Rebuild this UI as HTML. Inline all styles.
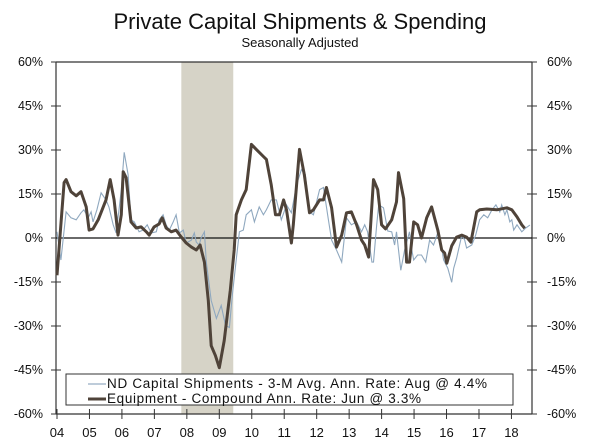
<!DOCTYPE html>
<html><head><meta charset="utf-8"><style>
body{margin:0;background:#fff;}
svg{display:block;font-family:"Liberation Sans",sans-serif;}
</style></head><body>
<svg id="chart" width="600" height="447">
<text x="300" y="29" text-anchor="middle" font-size="22" fill="#111">Private Capital Shipments &amp; Spending</text>
<text x="300" y="47" text-anchor="middle" font-size="13" fill="#111">Seasonally Adjusted</text>
<g id="plot"></g>
</svg>
<script>
const yTicks=[60,45,30,15,0,-15,-30,-45,-60];
const xYears=[2004,2005,2006,2007,2008,2009,2010,2011,2012,2013,2014,2015,2016,2017,2018];
const recession=[2007.83,2009.43];
const shipDates=[2004.00,2004.12,2004.28,2004.43,2004.59,2004.74,2004.83,2004.96,2005.05,2005.11,2005.23,2005.36,2005.51,2005.60,2005.73,2005.82,2005.91,2005.98,2006.07,2006.19,2006.28,2006.38,2006.53,2006.65,2006.78,2006.90,2007.06,2007.15,2007.27,2007.36,2007.46,2007.58,2007.67,2007.77,2007.89,2007.98,2008.14,2008.23,2008.29,2008.38,2008.44,2008.54,2008.60,2008.75,2008.91,2009.06,2009.19,2009.31,2009.40,2009.52,2009.62,2009.74,2009.83,2009.99,2010.08,2010.23,2010.36,2010.45,2010.60,2010.76,2010.91,2011.07,2011.22,2011.38,2011.53,2011.65,2011.78,2011.90,2012.09,2012.21,2012.36,2012.46,2012.61,2012.77,2012.92,2013.07,2013.23,2013.38,2013.48,2013.57,2013.70,2013.75,2013.85,2013.91,2014.06,2014.19,2014.31,2014.40,2014.46,2014.59,2014.71,2014.86,2014.93,2014.99,2015.11,2015.23,2015.36,2015.48,2015.60,2015.76,2015.91,2016.04,2016.16,2016.22,2016.31,2016.47,2016.56,2016.62,2016.78,2016.90,2017.02,2017.15,2017.27,2017.40,2017.52,2017.64,2017.70,2017.80,2017.86,2017.95,2018.01,2018.07,2018.17,2018.32,2018.44,2018.57];
const shipValues=[2.1,-7.5,8.9,6.9,6.2,8.6,9.6,6.9,8.9,5.5,9.6,15.4,13.0,10.6,4.5,1.7,9.6,16.5,29.2,21.6,6.2,5.5,2.1,2.7,4.5,1.7,2.1,6.2,7.9,4.5,2.7,5.5,7.9,1.7,2.7,-1.7,-0.7,1.7,-1.4,-2.4,0,2.1,-8.2,-21.3,-27.4,-23.0,-29.8,-30.5,-19.6,-7.5,2.1,2.7,7.9,9.6,5.5,10.6,7.9,9.6,13.0,13.0,6.2,11.3,8.6,18.2,23.3,21.6,8.9,7.9,16.5,17.2,6.2,-0.7,-4.1,-8.2,6.9,4.5,5.5,2.1,4.5,2.1,-8.2,-8.2,4.5,11.3,10.3,2.4,2.1,-2.4,2.1,-11.0,-4.1,2.1,-4.1,-7.5,-5.8,-5.8,-8.2,-0.7,-2.4,2.7,-7.5,-10.3,-15.1,-10.3,-6.9,1.0,-0.7,-3.4,-2.4,1.0,6.2,7.9,6.9,9.6,11.3,8.9,11.3,7.9,9.6,5.5,6.2,2.7,4.5,2.1,3.4,4.4];
const equipDates=[2004.00,2004.22,2004.28,2004.43,2004.59,2004.74,2004.90,2004.99,2005.11,2005.27,2005.51,2005.64,2005.76,2005.88,2005.98,2006.04,2006.13,2006.28,2006.44,2006.59,2006.75,2006.84,2006.99,2007.15,2007.24,2007.36,2007.52,2007.67,2007.83,2007.98,2008.14,2008.29,2008.41,2008.54,2008.66,2008.75,2008.88,2009.00,2009.15,2009.34,2009.46,2009.52,2009.68,2009.83,2009.99,2010.14,2010.36,2010.45,2010.60,2010.73,2010.85,2010.98,2011.07,2011.22,2011.28,2011.47,2011.62,2011.78,2011.90,2012.09,2012.21,2012.30,2012.46,2012.61,2012.77,2012.92,2013.07,2013.23,2013.38,2013.48,2013.60,2013.75,2013.88,2014.00,2014.12,2014.31,2014.46,2014.52,2014.68,2014.77,2014.86,2014.99,2015.11,2015.23,2015.39,2015.54,2015.73,2015.85,2015.94,2016.01,2016.16,2016.31,2016.47,2016.62,2016.75,2016.93,2017.02,2017.24,2017.55,2017.86,2018.01,2018.17,2018.32,2018.41];
const equipValues=[-12.7,18.9,19.9,15.8,14.4,15.8,10.6,2.7,3.1,6.2,13.0,19.9,13.0,1.0,7.9,22.6,20.6,5.5,3.4,3.8,2.1,1.0,3.8,4.8,6.9,3.4,2.1,2.7,0.3,-1.7,-3.1,-4.1,-2.4,-8.2,-21.3,-36.7,-40.1,-44.2,-35.0,-17.8,-4.1,7.9,13.0,16.5,31.9,30.2,27.8,26.8,18.2,7.9,7.9,13.0,9.6,-1.7,4.5,30.2,21.6,8.6,9.6,13.0,13.0,17.2,10.3,-3.1,1.0,8.6,8.9,4.5,-0.7,-2.4,-6.5,19.9,16.5,4.5,3.1,6.2,12.3,22.3,13.4,-8.2,-8.2,5.5,4.5,0,6.9,10.6,2.7,-4.1,-5.1,-8.6,-2.7,0.3,1.0,0.3,-1.4,8.9,9.6,9.9,9.6,10.3,9.6,7.2,4.5,3.3];

const NS='http://www.w3.org/2000/svg';
const L=56,R=532,T=62,B=414;
const X0=2004,PX=32.46,XO=57;
function xs(t){return XO+(t-X0)*PX;}
function ys(v){return T+(60-v)/120*(B-T);}
const g=document.getElementById('plot');
function mk(tag,attrs,parent){const e=document.createElementNS(NS,tag);for(const k in attrs)e.setAttribute(k,attrs[k]);(parent||g).appendChild(e);return e;}

let r=mk('rect',{x:xs(recession[0]),y:T,width:xs(recession[1])-xs(recession[0]),height:B-T,fill:'#d6d3c7'});



let ax=mk('path',{d:`M${L},${T}H${R}M${L},${T}V${B}M${R},${T}V${B}M${L},${B}H${R}`,stroke:'#333','stroke-width':1.2,fill:'none'});



yTicks.forEach(v=>{
  const y=ys(v);
  mk('line',{x1:L-5,x2:L+5,y1:y,y2:y,stroke:'#333'});
  mk('line',{x1:R-5,x2:R+5,y1:y,y2:y,stroke:'#333'});
  const a=mk('text',{x:L-13,y:y+4,'text-anchor':'end','font-size':12.5,fill:'#111'});a.textContent=v+'%';
  
  
  const b=mk('text',{x:R+15,y:y+4,'font-size':12.5,fill:'#111'});b.textContent=v+'%';
  
  
});
xYears.forEach(yr=>{
  const x=xs(yr);
  mk('line',{x1:x,x2:x,y1:B-5,y2:B+5,stroke:'#333'});
  const t=mk('text',{x:x,y:437,'text-anchor':'middle','font-size':13,fill:'#111'});t.textContent=String(yr).slice(2);
  
  
});
let z=mk('line',{x1:L,x2:R,y1:ys(0),y2:ys(0),stroke:'#111','stroke-width':1.2});



function pts(d,v){return d.map((t,i)=>xs(t).toFixed(1)+','+ys(v[i]).toFixed(1)).join(' ');}
let s1=mk('polyline',{points:pts(shipDates,shipValues),fill:'none',stroke:'#8fa8bf','stroke-width':1.1});


let s2=mk('polyline',{points:pts(equipDates,equipValues),fill:'none',stroke:'#4f4339','stroke-width':3,'stroke-linejoin':'round'});



let lg=mk('g',{});


mk('rect',{x:66,y:374,width:447,height:31,fill:'#fff',stroke:'#333','stroke-width':1},lg);
let l1=mk('line',{x1:88,x2:106,y1:384,y2:384,stroke:'#a9bccd','stroke-width':1.5},lg);


let t1=mk('text',{x:107,y:388,'font-size':13.5,fill:'#111',textLength:380},lg);t1.textContent='ND Capital Shipments - 3-M Avg. Ann. Rate: Aug @ 4.4%';


let l2=mk('line',{x1:88,x2:106,y1:399,y2:399,stroke:'#4f4339','stroke-width':3},lg);


let t2=mk('text',{x:107,y:403,'font-size':13.5,fill:'#111',textLength:314},lg);t2.textContent='Equipment - Compound Ann. Rate: Jun @ 3.3%';


</script>
</body></html>
